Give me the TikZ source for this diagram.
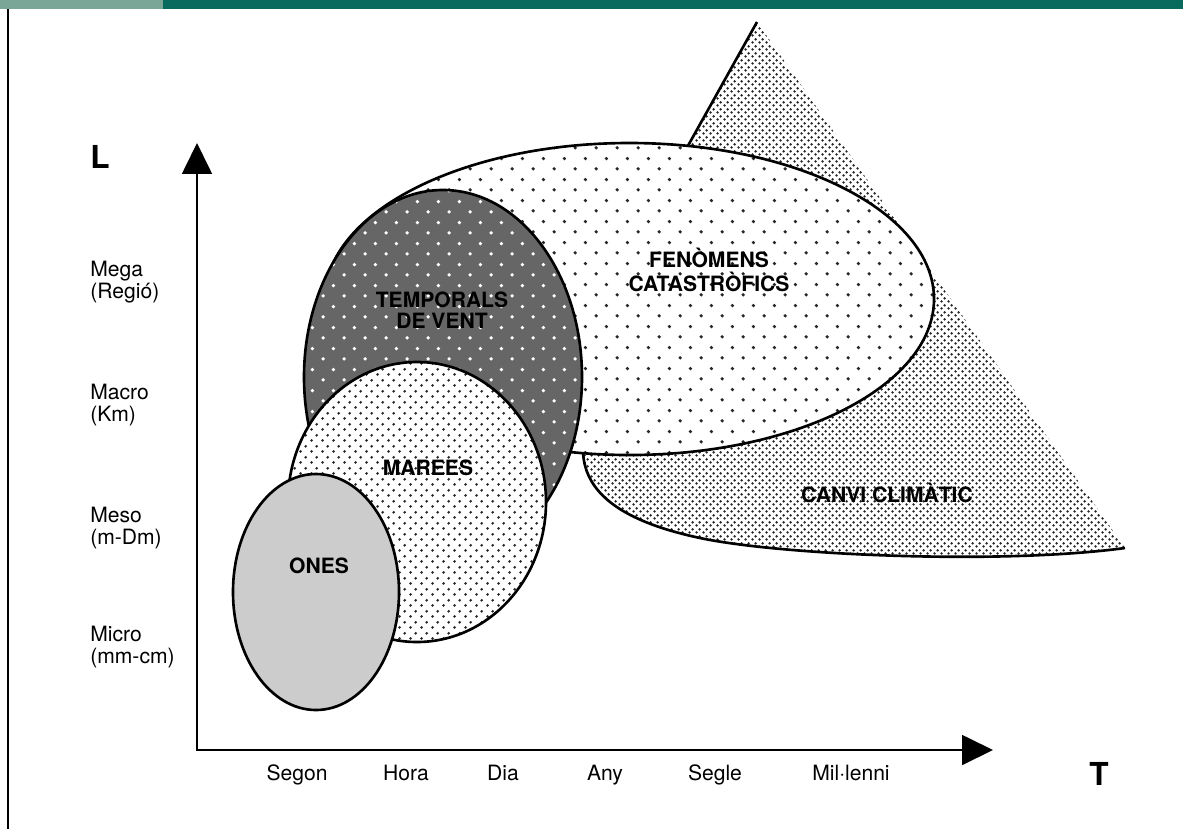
\documentclass[tikz,border=0pt]{standalone}
\usepackage{fontspec}
\setmainfont{TeX Gyre Heros}
\usetikzlibrary{arrows.meta, patterns}

\definecolor{barlight}{HTML}{7AA697}
\definecolor{bardark}{HTML}{086B5E}
\definecolor{onagray}{HTML}{CCCCCC}

% trames de punts
\pgfdeclarepatternformonly{tramafina}{\pgfpointorigin}{\pgfpoint{4pt}{4pt}}{\pgfpoint{4pt}{4pt}}{%
  \pgfpathcircle{\pgfpoint{1pt}{1pt}}{0.85pt}%
  \pgfpathcircle{\pgfpoint{3pt}{3pt}}{0.85pt}%
  \pgfusepath{fill}}
\pgfdeclarepatternformonly{tramamitja}{\pgfpointorigin}{\pgfpoint{6.3pt}{6.3pt}}{\pgfpoint{6.3pt}{6.3pt}}{%
  \pgfpathcircle{\pgfpoint{1.575pt}{1.575pt}}{0.9pt}%
  \pgfpathcircle{\pgfpoint{4.725pt}{4.725pt}}{0.9pt}%
  \pgfusepath{fill}}
\pgfdeclarepatternformonly{tramaclara}{\pgfpointorigin}{\pgfpoint{12.1pt}{12.1pt}}{\pgfpoint{12.1pt}{12.1pt}}{%
  \pgfpathcircle{\pgfpoint{3.03pt}{3.03pt}}{1.05pt}%
  \pgfpathcircle{\pgfpoint{9.08pt}{9.08pt}}{1.05pt}%
  \pgfusepath{fill}}
\pgfdeclarepatternformonly{tramablanca}{\pgfpointorigin}{\pgfpoint{12.1pt}{12.1pt}}{\pgfpoint{12.1pt}{12.1pt}}{%
  \pgfpathcircle{\pgfpoint{3.03pt}{3.03pt}}{1.1pt}%
  \pgfpathcircle{\pgfpoint{9.08pt}{9.08pt}}{1.1pt}%
  \pgfusepath{fill}}

\begin{document}
\begin{tikzpicture}[
  x=0.02cm,
  y=-0.02cm,
  clima/.style={pattern=tramafina, pattern color=black!85},
  catastrofe/.style={preaction={fill=white}, pattern=tramaclara, pattern color=black!85, line width=1.5pt},
  temporal/.style={preaction={fill=black!60}, pattern=tramablanca, pattern color=white, line width=1.5pt},
  marea/.style={preaction={fill=white}, pattern=tramamitja, pattern color=black!85, line width=1.5pt},
  ona/.style={fill=onagray, line width=1.5pt},
  assi/.style={line width=1pt, {Triangle[length=0.62cm, width=0.6cm]}-{Triangle[length=0.62cm, width=0.6cm]}},
  nivell/.style={anchor=west, inner sep=0, align=left, font=\fontsize{12}{12.5}\selectfont},
  temps/.style={anchor=base, inner sep=0, font=\fontsize{12}{12.5}\selectfont},
  etiqueta/.style={inner sep=0, align=center, font=\fontsize{12}{12}\selectfont\bfseries},
  eix/.style={anchor=base, inner sep=0, font=\fontsize{18}{18}\selectfont\bfseries}
  ]
    \useasboundingbox (0,0) rectangle (1183,829);

    % barra de dalt i filet
    \fill[barlight] (0,0) rectangle (163,9);
    \fill[bardark] (163,0) rectangle (1183,9);
    \draw[line width=1pt] (8,9) -- (8,829);

    % canvi climatic (triangle)
    \coordinate (apex) at (757,22);
    \coordinate (dreta) at (1125,548);
    \coordinate (inici) at (583,452);
    \coordinate (amagat) at (602,300);
    \coordinate (fons) at (700,538);

    \fill[clima] (inici) .. controls (585,495) and (625,522) .. (fons)
        .. controls (780,555) and (1000,565) .. (dreta) -- (apex) -- (amagat) -- cycle;
    \draw[line width=1.5pt] (apex) -- (amagat);
    \draw[line width=1.5pt] (inici) .. controls (585,495) and (625,522) .. (fons)
        .. controls (780,555) and (1000,565) .. (dreta);

    % el·lipses
    \draw[catastrofe] (629.5,299) ellipse [x radius=304.5, y radius=156];
    \draw[temporal] (443,377) ellipse [x radius=139, y radius=187];
    \draw[marea] (417,502) ellipse [x radius=129, y radius=140];
    \draw[ona] (316,592) ellipse [x radius=83, y radius=118];

    % eixos
    \coordinate (y) at (197,143);
    \coordinate (origen) at (197,750);
    \coordinate (x) at (993,750);
    \draw[assi] (y) -- (origen) -- (x);

    \node[eix] (eixL) at (100,168) {L};
    \node[eix] (eixT) at (1099,785) {T};

    % escales
    \node[nivell] (mega) at (90,282) {Mega\\(Regió)};
    \node[nivell] (macro) at (90,405) {Macro\\(Km)};
    \node[nivell] (meso) at (90,528) {Meso\\(m-Dm)};
    \node[nivell] (micro) at (90,647) {Micro\\(mm-cm)};

    \node[temps] (segon) at (297,780) {Segon};
    \node[temps] (hora) at (406,780) {Hora};
    \node[temps] (dia) at (503,780) {Dia};
    \node[temps] (any) at (605,780) {Any};
    \node[temps] (segle) at (715,780) {Segle};
    \node[temps] (mileni) at (851,780) {Mil·lenni};

    % noms dels fenomens
    \node[etiqueta] (fenomens) at (709,270) {FENÒMENS\\[2pt]CATASTRÒFICS};
    \node[etiqueta] (temporals) at (442,310) {TEMPORALS\\DE VENT};
    \node[etiqueta, anchor=base] (marees) at (428,475) {MAREES};
    \node[etiqueta, anchor=base] (ones) at (319,573) {ONES};
    \node[etiqueta, anchor=base] (canvi) at (887,502) {CANVI CLIMÀTIC};

\end{tikzpicture}
\end{document}
